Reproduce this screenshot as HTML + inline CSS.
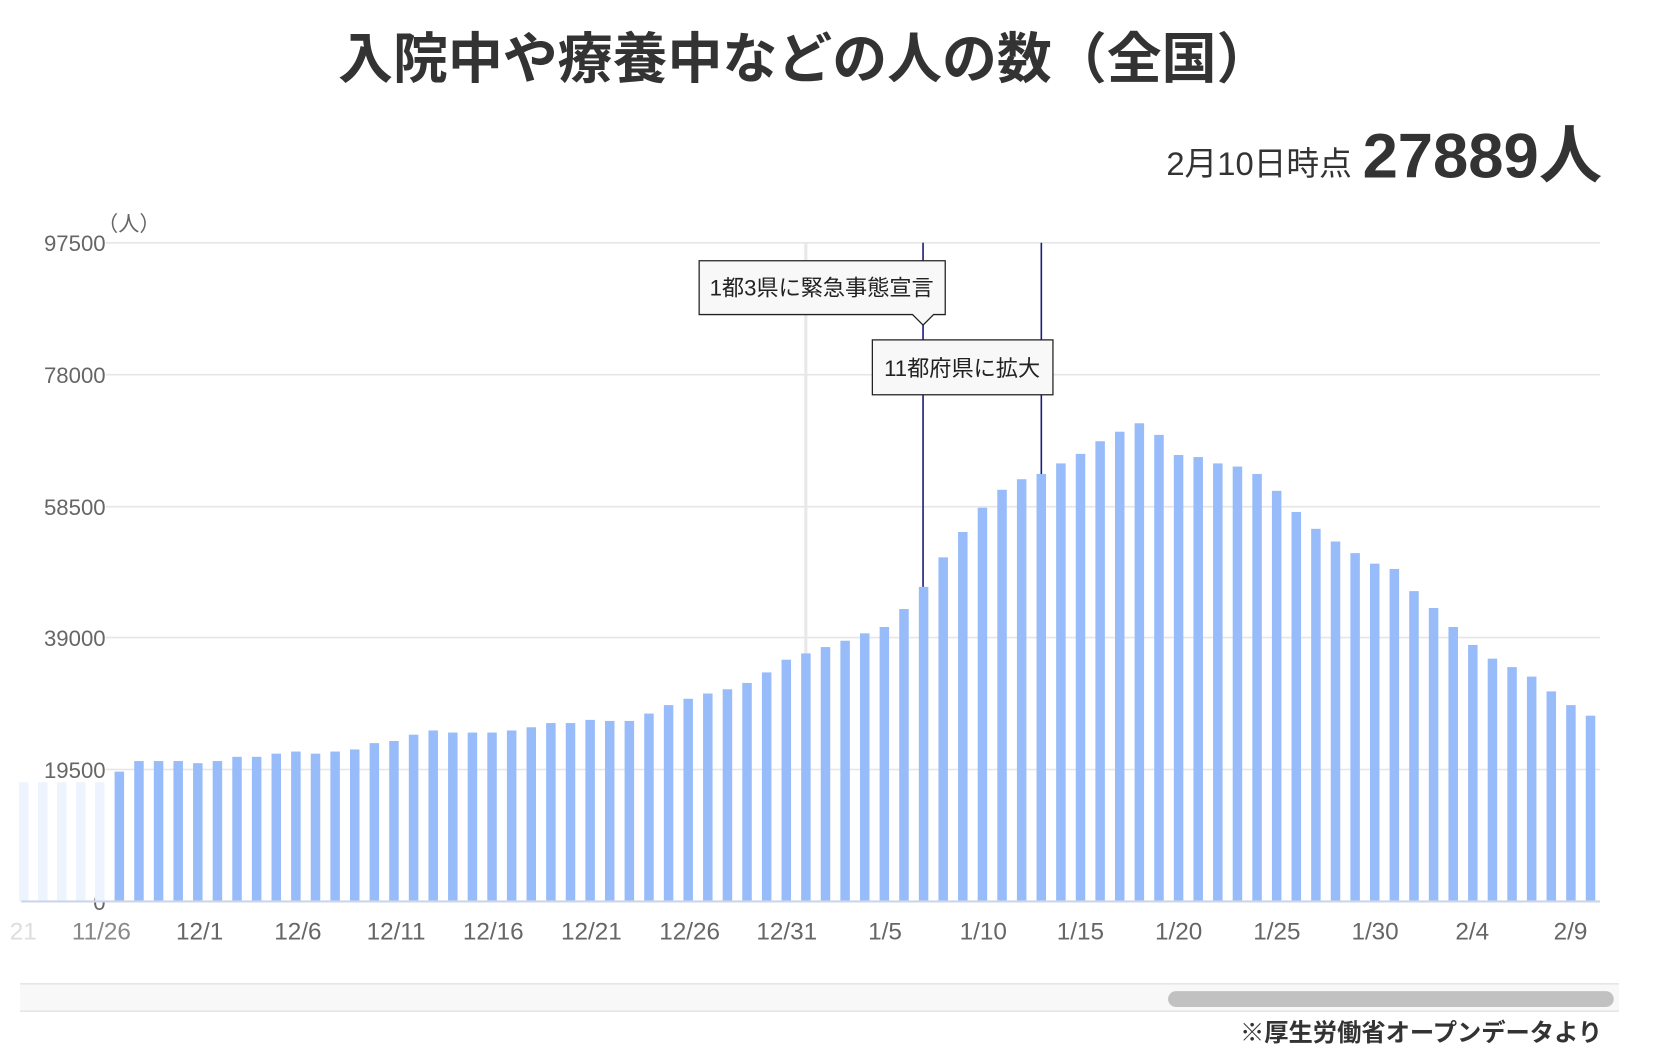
<!DOCTYPE html>
<html><head><meta charset="utf-8"><style>
html,body{margin:0;padding:0;background:#fff;}
svg{display:block;}
text{font-family:"Liberation Sans","Noto Sans CJK JP",sans-serif;}
</style></head><body>
<svg width="1656" height="1064" viewBox="0 0 1568 1008" preserveAspectRatio="none" xmlns="http://www.w3.org/2000/svg">
<text x="762" y="74" text-anchor="middle" font-size="52" font-weight="bold" fill="#333">入院中や療養中などの人の数（全国）</text>
<text x="1280" y="166" text-anchor="end" font-size="31" fill="#333">2月10日時点</text>
<text x="1517" y="168" text-anchor="end" font-size="60" font-weight="bold" fill="#333">27889人</text>
<text x="92" y="219" font-size="20" fill="#666">（人）</text>
<g stroke="#e6e6e6" stroke-width="1.5">
<line x1="100" y1="230" x2="1515" y2="230"/><line x1="100" y1="355" x2="1515" y2="355"/><line x1="100" y1="480" x2="1515" y2="480"/><line x1="100" y1="604" x2="1515" y2="604"/><line x1="100" y1="729" x2="1515" y2="729"/>
</g>
<g font-size="21" fill="#666" text-anchor="end">
<text x="100" y="238">97500</text><text x="100" y="363">78000</text><text x="100" y="488">58500</text><text x="100" y="612">39000</text><text x="100" y="737">19500</text><text x="100" y="862">0</text>
</g>
<line x1="763" y1="230" x2="763" y2="854" stroke="#e8e8e8" stroke-width="3"/>
<g fill="#eef4fe">
<rect x="18" y="741" width="9" height="113"/><rect x="36" y="741" width="9" height="113"/><rect x="54" y="741" width="9" height="113"/><rect x="72" y="741" width="9" height="113"/><rect x="90" y="741" width="9" height="113"/>
</g>
<g fill="#98bcfa" id="bars"></g>
<line x1="20" y1="854" x2="1515" y2="854" stroke="#ccd6eb" stroke-width="2"/>
<line x1="874" y1="230" x2="874" y2="556" stroke="#1a1a7a" stroke-width="1.5"/>
<line x1="986" y1="230" x2="986" y2="449" stroke="#1a1a7a" stroke-width="1.5"/>
<path d="M662,247 H895 V298 H884 L874,308 L864,298 H662 Z" fill="#f8f8f8" stroke="#222" stroke-width="1.2"/>
<text x="778" y="280" text-anchor="middle" font-size="21" fill="#222">1都3県に緊急事態宣言</text>
<rect x="826" y="322" width="171" height="52" fill="#f8f8f8" stroke="#222" stroke-width="1.2"/>
<text x="911" y="356" text-anchor="middle" font-size="21" fill="#222">11都府県に拡大</text>
<g font-size="23" fill="#666" text-anchor="middle">
<text x="22" y="890" fill="#ddd">21</text><text x="96" y="890" fill="#888">11/26</text><text x="189" y="890">12/1</text><text x="282" y="890">12/6</text><text x="375" y="890">12/11</text><text x="467" y="890">12/16</text><text x="560" y="890">12/21</text><text x="653" y="890">12/26</text><text x="745" y="890">12/31</text><text x="838" y="890">1/5</text><text x="931" y="890">1/10</text><text x="1023" y="890">1/15</text><text x="1116" y="890">1/20</text><text x="1209" y="890">1/25</text><text x="1302" y="890">1/30</text><text x="1394" y="890">2/4</text><text x="1487" y="890">2/9</text>
</g>
<rect x="19" y="932" width="1514" height="26" fill="#f8f8f8"/>
<line x1="19" y1="932" x2="1533" y2="932" stroke="#e6e6e6" stroke-width="1.5"/>
<line x1="19" y1="958" x2="1533" y2="958" stroke="#e6e6e6" stroke-width="1.5"/>
<rect x="1106" y="939" width="422" height="15" rx="7.5" fill="#c1c1c1"/>
<text x="1517" y="986" text-anchor="end" font-size="23" font-weight="bold" fill="#333">※厚生労働省オープンデータより</text>
<script>
var tops=[731,721,721,721,723,721,717,717,714,712,714,712,710,704,702,696,692,694,694,694,692,689,685,685,682,683,683,676,668,662,657,653,647,637,625,619,613,607,600,594,577,556,528,504,481,464,454,449,439,430,418,409,401,412,431,433,439,442,449,465,485,501,513,524,534,539,560,576,594,611,624,632,641,655,668,678];
var g=document.getElementById('bars'),ns='http://www.w3.org/2000/svg';
var step=(1506-113)/(tops.length-1);
tops.forEach(function(t,i){var r=document.createElementNS(ns,'rect');var cx=113+i*step;r.setAttribute('x',cx-4.5);r.setAttribute('y',t);r.setAttribute('width',9);r.setAttribute('height',854-t);g.appendChild(r);});
</script>
</svg>
</body></html>
